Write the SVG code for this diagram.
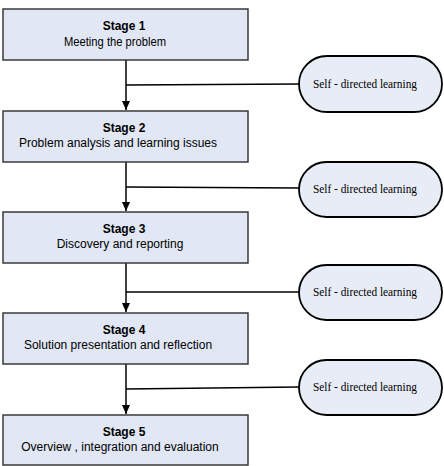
<svg xmlns="http://www.w3.org/2000/svg" width="444" height="466" viewBox="0 0 444 466">
<style>
.box{fill:#e1e7f5;stroke:#3a3a3a;stroke-width:1.5}
.pill{fill:#e8ecf7;stroke:#000;stroke-width:1.8}
.t1{font-family:"Liberation Sans",Arial,sans-serif;font-size:12px;font-weight:bold;fill:#000;text-anchor:middle}
.t2{font-family:"Liberation Sans",Arial,sans-serif;font-size:12px;fill:#000;text-anchor:middle}
.tp{font-family:"Liberation Serif","Times New Roman",serif;font-size:12px;fill:#000;text-anchor:middle}
.ln{stroke:#000;stroke-width:1.5;fill:none}
</style>
<defs>
<marker id="ah" markerWidth="10" markerHeight="10" refX="9" refY="4" orient="auto" markerUnits="userSpaceOnUse">
<path d="M0,0 L9,4 L0,8 Z" fill="#000"/>
</marker>
</defs>
<g id="connectors">
<line class="ln" x1="126" y1="60" x2="126" y2="110" marker-end="url(#ah)"/>
<line class="ln" x1="126" y1="162" x2="126" y2="211" marker-end="url(#ah)"/>
<line class="ln" x1="126" y1="263" x2="126" y2="312" marker-end="url(#ah)"/>
<line class="ln" x1="126" y1="364" x2="126" y2="414" marker-end="url(#ah)"/>
<line class="ln" x1="126" y1="85" x2="299" y2="84" stroke-width="2"/>
<line class="ln" x1="126" y1="187" x2="299" y2="188"/>
<line class="ln" x1="126" y1="292" x2="299" y2="292"/>
<line class="ln" x1="126" y1="389" x2="299" y2="387" stroke-width="2"/>
</g>
<g id="stage1">
<rect class="box" x="3" y="9" width="245" height="51"/>
<text class="t1" x="124" y="30">Stage  1</text>
<text class="t2" x="115" y="46" textLength="102" lengthAdjust="spacingAndGlyphs">Meeting the problem</text>
</g>
<g id="stage2">
<rect class="box" x="3" y="111" width="245" height="51"/>
<text class="t1" x="124" y="132">Stage  2</text>
<text class="t2" x="118" y="147">Problem analysis and learning issues</text>
</g>
<g id="stage3">
<rect class="box" x="3" y="212" width="245" height="51"/>
<text class="t1" x="124" y="233">Stage  3</text>
<text class="t2" x="120" y="248">Discovery and reporting</text>
</g>
<g id="stage4">
<rect class="box" x="3" y="313" width="245" height="51"/>
<text class="t1" x="124" y="334">Stage  4</text>
<text class="t2" x="118" y="349">Solution presentation and reflection</text>
</g>
<g id="stage5">
<rect class="box" x="3" y="415" width="245" height="50"/>
<text class="t1" x="124" y="436">Stage  5</text>
<text class="t2" x="120" y="451">Overview ,  integration and evaluation</text>
</g>
<g id="sdl1">
<rect class="pill" x="299" y="56" width="143" height="56" rx="28" ry="28"/>
<text class="tp" x="365" y="88" textLength="104" lengthAdjust="spacingAndGlyphs">Self - directed learning</text>
</g>
<g id="sdl2">
<rect class="pill" x="299" y="162" width="143" height="55" rx="27.5" ry="27.5"/>
<text class="tp" x="365" y="193" textLength="104" lengthAdjust="spacingAndGlyphs">Self - directed learning</text>
</g>
<g id="sdl3">
<rect class="pill" x="299" y="265" width="143" height="55" rx="27.5" ry="27.5"/>
<text class="tp" x="365" y="296" textLength="104" lengthAdjust="spacingAndGlyphs">Self - directed learning</text>
</g>
<g id="sdl4">
<rect class="pill" x="299" y="360" width="143" height="55" rx="27.5" ry="27.5"/>
<text class="tp" x="365" y="391" textLength="104" lengthAdjust="spacingAndGlyphs">Self - directed learning</text>
</g>
</svg>
